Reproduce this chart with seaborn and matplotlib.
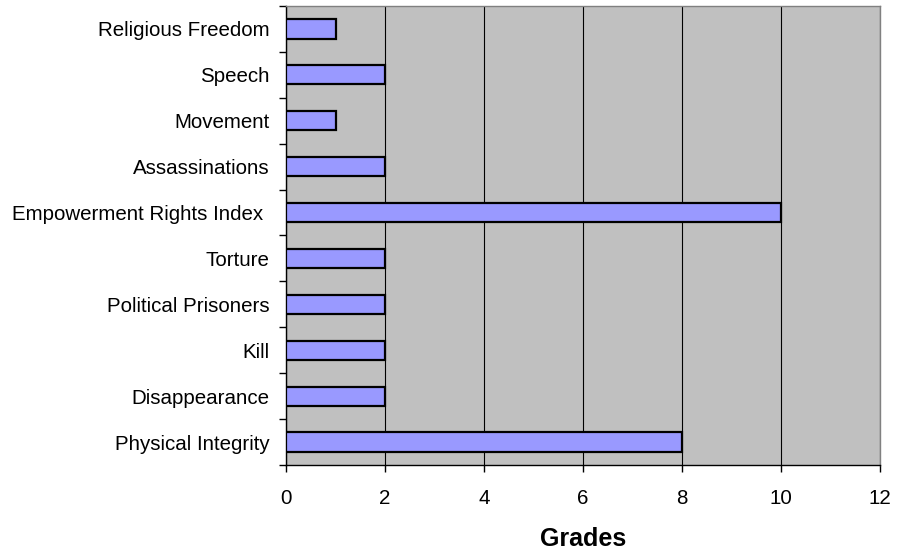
import matplotlib
matplotlib.use("Agg")
import matplotlib.pyplot as plt
import seaborn as sns
import pandas as pd
import numpy as np

categories = ["Religious Freedom", "Speech", "Movement", "Assassinations",
              "Empowerment Rights Index ", "Torture", "Political Prisoners",
              "Kill", "Disappearance", "Physical Integrity"]
grades = [1, 2, 1, 2, 10, 2, 2, 2, 2, 8]
x_ticks = [0, 2, 4, 6, 8, 10, 12]

sns.set_style("white")
plt.rcParams['font.family'] = ['Liberation Sans', 'DejaVu Sans']
plt.rcParams['text.color'] = 'black'
plt.rcParams['xtick.color'] = 'black'
plt.rcParams['ytick.color'] = 'black'
plt.rcParams['axes.labelcolor'] = 'black'

df = pd.DataFrame({"category": categories, "grade": grades})

fig = plt.figure(figsize=(8.98, 5.51), dpi=100)
ax = fig.add_axes([286/898, 1 - 465/551, (880-286)/898, (465-6)/551])
ax.set_facecolor("#C0C0C0")

sns.barplot(data=df, x="grade", y="category", order=categories, orient="h",
            color="#9999FF", saturation=1, edgecolor="black", linewidth=1.6,
            width=0.42, ax=ax, zorder=3)

ax.set_xlim(0, 12)
ax.set_ylim(len(categories) - 0.5, -0.5)
ax.set_xticks(x_ticks)
ax.set_xticklabels([str(t) for t in x_ticks], fontsize=14.8)
ax.tick_params(axis="x", direction="out", length=5, width=1, color="black",
               pad=12, bottom=True, labelcolor="black")
ax.tick_params(axis="y", which="major", length=0, pad=12, labelsize=14.8,
               labelcolor="black")
ax.set_yticks(np.arange(-0.5, len(categories), 1.0), minor=True)
ax.tick_params(axis="y", which="minor", direction="out", length=5, width=1,
               color="black", left=True)

ax.grid(axis="x", color="black", linewidth=0.8)
ax.grid(axis="y", visible=False)
ax.set_axisbelow(True)

for s in ["left", "bottom"]:
    ax.spines[s].set_color("black")
    ax.spines[s].set_linewidth(1.0)
for s in ["top", "right"]:
    ax.spines[s].set_color("#808080")
    ax.spines[s].set_linewidth(1.0)

ax.set_ylabel("")
ax.set_xlabel("Grades", fontsize=18, fontweight="bold", labelpad=14,
              color="black")

fig.savefig("out.png", dpi=100)
